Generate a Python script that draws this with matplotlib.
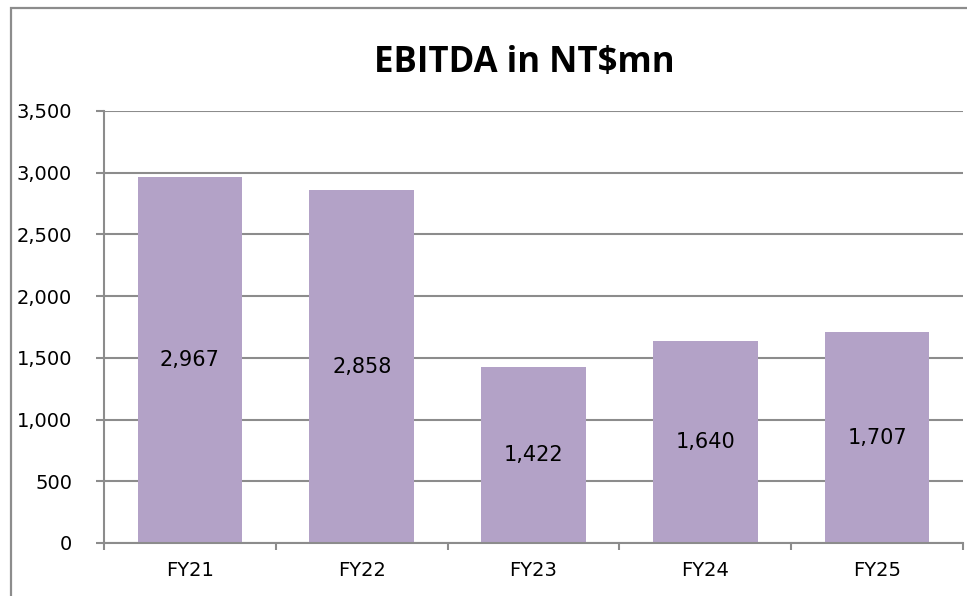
import matplotlib
matplotlib.use("Agg")
import matplotlib.pyplot as plt
from matplotlib.patches import Rectangle
from matplotlib.ticker import FuncFormatter, FixedLocator
import numpy as np

categories = ["FY21", "FY22", "FY23", "FY24", "FY25"]
values = [2967, 2858, 1422, 1640, 1707]
yticks = [0, 500, 1000, 1500, 2000, 2500, 3000, 3500]
title = "EBITDA in NT$mn"

plt.rcParams['font.family'] = ['DejaVu Sans']
W, H = 967, 596
fig = plt.figure(figsize=(W/100, H/100), dpi=100)
fig.patch.set_facecolor("white")

grey = "#8c8c8c"
# outer chart border (left and top visible)
fig.patches.append(Rectangle((11/W, -0.1), 1.2, (H-8)/H + 0.1, transform=fig.transFigure,
                             fill=False, edgecolor=grey, linewidth=1.6, clip_on=False))

ax = fig.add_axes([104/W, (H-543)/H, (963-104)/W, (543-111)/H])
x = np.arange(len(categories))
ax.bar(x, values, width=0.61, color="#B3A2C7", zorder=3)
ax.set_xlim(-0.5, len(categories)-0.5)
ax.set_ylim(0, 3500)
ax.yaxis.set_major_locator(FixedLocator(yticks))
ax.yaxis.set_major_formatter(FuncFormatter(lambda v, p: f"{int(v):,}"))
ax.grid(axis="y", color=grey, linewidth=1.5, zorder=0)
ax.set_axisbelow(True)

for s in ["top", "right"]:
    ax.spines[s].set_visible(False)
for s in ["left", "bottom"]:
    ax.spines[s].set_color(grey)
    ax.spines[s].set_linewidth(1.5)
    ax.spines[s].set_zorder(4)

ax.set_xticks(x)
ax.set_xticklabels(categories, fontsize=14)
ax.set_xticks(np.arange(len(categories)+1) - 0.5, minor=True)
ax.tick_params(axis="x", which="major", length=0, pad=13)
ax.tick_params(axis="x", which="minor", length=5, width=1.5, color=grey, direction="out")
ax.tick_params(axis="y", length=6, width=1.5, color=grey, labelsize=14, pad=17)

for xi, v in zip(x, values):
    ax.text(xi, v/2, f"{v:,}", ha="center", va="center", fontsize=15, color="black", zorder=5)

fig.text((372+676)/2/W, 1-63/H, title, ha="center", va="center", fontsize=25,
         fontweight="bold", family=["Open Sans", "DejaVu Sans"])

fig.savefig("out.png", dpi=100)
